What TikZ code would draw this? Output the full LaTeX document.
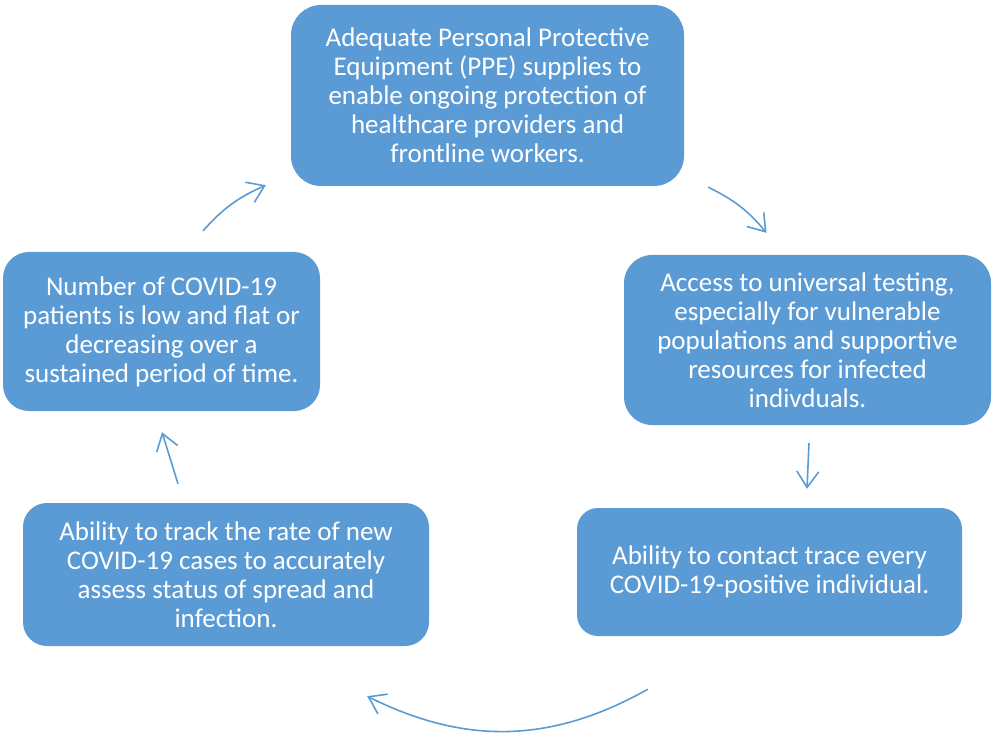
\documentclass[tikz,border=0pt]{standalone}
\usepackage{fontspec}
\setmainfont{Carlito}
\usepackage{tikz}
\usetikzlibrary{arrows.meta}

\definecolor{boxblue}{HTML}{5B9BD5}

\begin{document}
\begin{tikzpicture}[
        x=1pt,y=1pt,
        block/.style={rectangle,fill=boxblue,inner sep=0pt,align=center,text=white,font=\fontsize{27}{29}\selectfont},
        arrow/.style={-{Straight Barb[length=16pt,width=22pt,line width=1.6pt]},line width=1.6pt,boxblue},
      ]
      \useasboundingbox (0,0) rectangle (992,732);

      \node[block,minimum width=393pt,minimum height=181pt,rounded corners=30pt] (a) at (487.5,636.5)
        {Adequate Personal Protective\\Equipment (PPE) supplies to\\enable ongoing protection of\\healthcare providers and\\frontline workers.};
      \node[block,minimum width=367pt,minimum height=170pt,rounded corners=28pt] (b) at (807.5,392)
        {Access to universal testing,\\especially for vulnerable\\populations and supportive\\resources for infected\\indivduals.};
      \node[block,minimum width=385pt,minimum height=128pt,rounded corners=21pt] (c) at (769.5,160)
        {Ability to contact trace every\\COVID-19-positive individual.};
      \node[block,minimum width=406pt,minimum height=143pt,rounded corners=24pt] (d) at (226,157.5)
        {Ability to track the rate of new\\COVID-19 cases to accurately\\assess status of spread and\\infection.};
      \node[block,minimum width=317pt,minimum height=159pt,rounded corners=26pt] (e) at (161.5,400.5)
        {Number of COVID-19\\patients is low and flat or\\decreasing over a\\sustained period of time.};

      % cycle arrows, kept clear of the boxes
      \draw[arrow] ([shift={(24,-1)}]a.south east) to[bend left=12] ([shift={(-41,22)}]b.north);
      \draw[arrow] ([shift={(1.5,-18)}]b.south) -- ([shift={(37.5,19)}]c.north);
      \draw[arrow] ([shift={(71,-53)}]c.south west) to[bend left=28] ([shift={(-62,-50)}]d.south east);
      \draw[arrow] ([shift={(-48,19)}]d.north) -- ([shift={(0.5,-21)}]e.south);
      \draw[arrow] ([shift={(41.5,21)}]e.north) to[bend left=12] ([shift={(-25,1)}]a.south west);
    \end{tikzpicture}
\end{document}
